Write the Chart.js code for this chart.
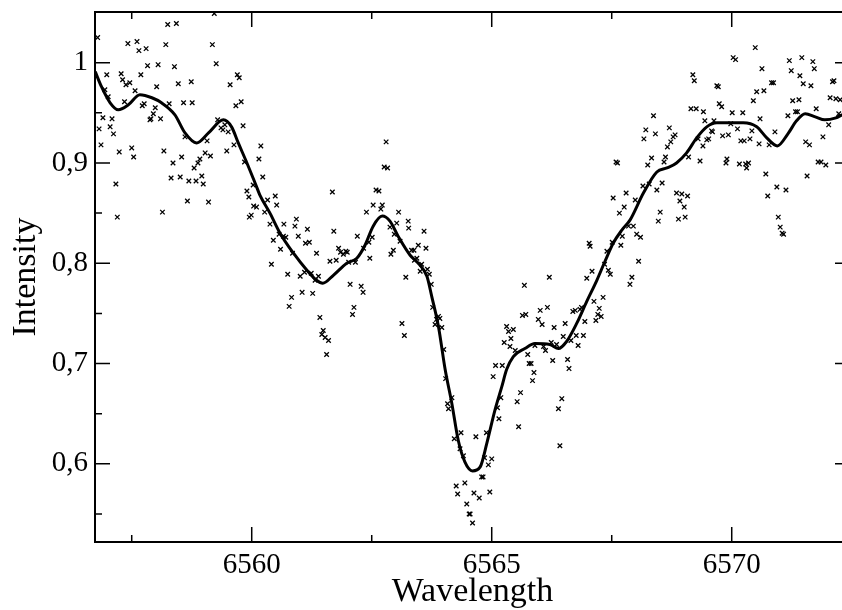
<!DOCTYPE html>
<html>
<head>
<meta charset="utf-8">
<script src="https://cdn.jsdelivr.net/npm/chart.js@4.4.1/dist/chart.umd.min.js"></script>
<style>
  html, body { margin: 0; padding: 0; background: #fff; overflow: hidden; }
  #wrap { width: 856px; height: 610px; }
</style>
</head>
<body>
<div id="wrap"><canvas id="spectrum" width="856" height="610"></canvas></div>
<script>
// axis ranges and ticks
const xMin = 6556.735, xMax = 6572.464;
const yMin = 0.5221, yMax = 1.0505;
const xMajorTicks = [6560, 6565, 6570];
const xMinorTicks = [6557.5, 6562.5, 6567.5];
const yMajorTicks = [0.6, 0.7, 0.8, 0.9, 1.0];
const yMinorTicks = [0.55, 0.65, 0.75, 0.85, 0.95];

// smoothed fit (solid line)
const fitWavelength = [
  6556.74, 6556.87, 6557.05, 6557.22, 6557.43, 6557.67, 6557.92, 6558.12, 6558.40, 6558.61,
  6558.85, 6559.10, 6559.41, 6559.58, 6559.72, 6559.90, 6560.07, 6560.17, 6560.38, 6560.59,
  6560.87, 6561.15, 6561.35, 6561.48, 6561.70, 6561.98, 6562.19, 6562.36, 6562.53, 6562.72,
  6562.88, 6563.05, 6563.30, 6563.47, 6563.65, 6563.75, 6563.89, 6564.03, 6564.17, 6564.30,
  6564.44, 6564.60, 6564.76, 6564.90, 6565.07, 6565.21, 6565.31, 6565.45, 6565.69, 6565.90,
  6566.21, 6566.39, 6566.56, 6566.77, 6566.98, 6567.19, 6567.36, 6567.53, 6567.71, 6567.88,
  6568.16, 6568.44, 6568.65, 6568.85, 6569.06, 6569.27, 6569.48, 6569.69, 6569.96, 6570.24,
  6570.52, 6570.73, 6570.95, 6571.17, 6571.35, 6571.53, 6571.74, 6571.94, 6572.17, 6572.30,
  6572.46
];
const fitIntensity = [
  0.991, 0.976, 0.960, 0.953, 0.958, 0.968, 0.965, 0.960, 0.948, 0.930,
  0.920, 0.930, 0.943, 0.936, 0.920, 0.900, 0.880, 0.868, 0.850, 0.830,
  0.810, 0.793, 0.783, 0.780, 0.788, 0.800, 0.805, 0.818, 0.837, 0.847,
  0.842, 0.827, 0.808, 0.800, 0.787, 0.767, 0.737, 0.694, 0.660, 0.624,
  0.602, 0.593, 0.597, 0.621, 0.654, 0.677, 0.694, 0.707, 0.715, 0.720,
  0.719, 0.715, 0.722, 0.740, 0.762, 0.783, 0.802, 0.820, 0.833, 0.843,
  0.870, 0.891, 0.895, 0.900, 0.910, 0.925, 0.936, 0.940, 0.940, 0.940,
  0.936, 0.925, 0.917, 0.929, 0.942, 0.949, 0.946, 0.943, 0.945, 0.948,
  0.951
];

// observed points (crosses)
const obsWavelength = [
  6556.79, 6558.25, 6558.43, 6559.22, 6557.42, 6557.61, 6557.65, 6557.80, 6558.21, 6559.18,
  6556.98, 6557.28, 6557.31, 6557.38, 6557.46, 6557.69, 6557.83, 6558.05, 6558.39, 6559.26,
  6559.70, 6559.74, 6556.94, 6557.01, 6557.57, 6558.02, 6558.47, 6558.74, 6559.55, 6557.35,
  6557.72, 6557.76, 6557.99, 6558.28, 6558.58, 6558.76, 6559.67, 6559.78, 6556.90, 6557.09,
  6557.95, 6557.88, 6557.90, 6558.10, 6556.82, 6557.05, 6557.12, 6556.86, 6557.24, 6557.50,
  6557.54, 6558.17, 6558.36, 6558.54, 6558.61, 6559.07, 6559.03, 6559.14, 6558.92, 6558.88,
  6558.80, 6558.96, 6558.99, 6558.32, 6558.51, 6558.69, 6558.84, 6557.17, 6558.66, 6559.10,
  6558.14, 6557.20, 6559.29, 6559.36, 6559.40, 6559.51, 6559.44, 6559.82, 6559.63, 6559.48,
  6559.85, 6560.03, 6559.90, 6559.94, 6559.95, 6559.99, 6560.04,
  6560.19, 6560.15, 6560.23, 6560.49, 6560.33, 6560.52, 6560.10, 6560.27, 6560.38, 6560.67,
  6560.90, 6560.93, 6561.16, 6560.45, 6560.57, 6560.66, 6560.71, 6560.97, 6561.12, 6561.20,
  6560.60, 6560.85, 6561.35, 6560.41, 6560.75, 6561.01, 6561.10, 6561.24, 6561.39, 6561.32,
  6561.05, 6561.27, 6560.83, 6560.78, 6561.42, 6561.49, 6561.46, 6561.53, 6561.60, 6561.56,
  6561.68, 6561.71, 6561.63, 6561.76, 6561.81, 6561.85, 6561.91, 6561.96, 6561.99, 6562.02,
  6562.16, 6562.20, 6562.05, 6562.28, 6562.32, 6562.13, 6562.10, 6562.33, 6562.46, 6562.44,
  6562.51, 6562.39, 6562.53, 6562.72, 6562.69, 6562.59, 6562.65, 6562.76, 6562.83, 6562.80,
  6563.06, 6562.88, 6563.02, 6563.26, 6563.27, 6562.97, 6563.09, 6562.95, 6562.90, 6563.21,
  6563.13, 6563.18,
  6563.59, 6563.47, 6563.63, 6563.33, 6563.38, 6563.44, 6563.39, 6563.54, 6563.51, 6563.66,
  6563.70, 6563.74, 6563.77, 6563.89, 6563.92, 6563.82, 6563.96, 6563.85, 6564.00, 6564.04,
  6564.17, 6564.08, 6564.10, 6564.22, 6564.36, 6564.34, 6564.41, 6564.67, 6564.26, 6564.29,
  6564.44, 6564.48, 6564.53, 6564.55, 6564.60, 6564.63, 6564.74, 6564.79, 6564.82, 6564.96,
  6564.85, 6564.93, 6565.00, 6564.89, 6565.15, 6565.12, 6565.19, 6565.03, 6565.08, 6565.22,
  6565.26, 6565.31, 6565.35, 6565.45, 6565.40, 6565.38, 6565.49, 6565.68, 6565.64, 6565.71,
  6565.75, 6565.78, 6565.82, 6565.88, 6565.85, 6565.60, 6565.53, 6565.56,
  6566.20, 6566.01, 6566.16, 6565.97, 6566.05, 6566.30, 6566.53, 6566.49, 6565.90, 6566.08,
  6566.12, 6566.24, 6566.35, 6566.27, 6566.58, 6566.61, 6566.46, 6566.39, 6566.42, 6566.69,
  6566.74, 6566.84, 6566.87, 6566.94, 6566.76, 6566.91, 6566.80, 6566.65, 6566.98, 6567.09,
  6567.03, 6567.05, 6567.13, 6567.32, 6567.24, 6567.21, 6567.28, 6567.17, 6567.35, 6567.43,
  6567.47, 6567.40, 6567.51, 6567.69, 6567.72, 6567.85, 6567.95, 6568.02, 6568.10, 6568.06,
  6567.92, 6567.88, 6568.47,
  6567.53, 6567.66, 6567.76, 6567.80, 6567.99, 6567.59, 6567.62, 6568.37, 6568.21, 6568.41,
  6568.17, 6568.70, 6568.82, 6568.78, 6568.73, 6568.66, 6568.33, 6568.25, 6568.62, 6568.59,
  6568.15, 6568.28, 6568.55, 6568.44, 6568.85, 6568.96, 6569.08, 6568.92, 6569.01, 6568.89,
  6569.03, 6568.51, 6569.19, 6569.22, 6569.69, 6569.72, 6569.15, 6569.26, 6569.41, 6569.44,
  6569.63, 6569.74, 6569.79, 6569.10, 6569.34, 6569.30, 6569.40, 6569.48, 6569.52, 6569.58,
  6569.60, 6569.81, 6569.93, 6569.90, 6569.88, 6570.16, 6570.29, 6570.35, 6570.31, 6570.03,
  6570.08, 6570.01, 6570.23, 6569.98, 6570.12, 6570.19, 6570.26, 6570.38, 6570.42, 6570.57,
  6570.78, 6570.49, 6570.63, 6570.52, 6570.67, 6570.45, 6570.83, 6570.87, 6570.59, 6570.90,
  6570.71, 6570.94, 6571.13, 6570.75, 6570.97, 6571.01, 6571.05, 6571.08, 6571.20, 6571.46,
  6571.69, 6571.72, 6571.24, 6571.42, 6571.49, 6571.65, 6571.27, 6571.40, 6571.17, 6571.33,
  6571.37, 6571.76, 6571.54, 6571.62, 6571.90, 6572.02, 6571.80, 6571.86, 6571.96, 6571.57,
  6572.10, 6572.13, 6572.05, 6572.17, 6572.26, 6572.23
];
const obsIntensity = [
  1.025, 1.038, 1.039, 1.049, 1.019, 1.021, 1.012, 1.014, 1.018, 1.018,
  0.988, 0.989, 0.983, 0.978, 0.980, 0.988, 0.997, 0.998, 0.996, 0.999,
  0.988, 0.985, 0.973, 0.966, 0.972, 0.976, 0.979, 0.981, 0.978, 0.961,
  0.957, 0.959, 0.955, 0.959, 0.960, 0.960, 0.957, 0.961, 0.945, 0.944,
  0.949, 0.943, 0.944, 0.944, 0.934, 0.936, 0.929, 0.918, 0.911, 0.915,
  0.906, 0.912, 0.900, 0.906, 0.926, 0.922, 0.910, 0.907, 0.904, 0.900,
  0.895, 0.887, 0.879, 0.885, 0.886, 0.882, 0.882, 0.879, 0.862, 0.861,
  0.851, 0.846, 0.943, 0.935, 0.933, 0.931, 0.938, 0.937, 0.918, 0.912,
  0.901, 0.878, 0.872, 0.866, 0.846, 0.848, 0.857,
  0.917, 0.904, 0.886, 0.867, 0.863, 0.858, 0.856, 0.851, 0.839, 0.839,
  0.837, 0.844, 0.834, 0.823, 0.829, 0.827, 0.826, 0.827, 0.820, 0.821,
  0.814, 0.810, 0.810, 0.799, 0.789, 0.787, 0.791, 0.790, 0.787, 0.783,
  0.771, 0.770, 0.766, 0.757, 0.746, 0.733, 0.729, 0.726, 0.723, 0.709,
  0.871, 0.832, 0.802, 0.803, 0.815, 0.811, 0.809, 0.812, 0.811, 0.801,
  0.801, 0.827, 0.779, 0.777, 0.771, 0.756, 0.749, 0.815, 0.805, 0.821,
  0.826, 0.851, 0.858, 0.858, 0.854, 0.873, 0.872, 0.896, 0.895, 0.921,
  0.851, 0.836, 0.840, 0.842, 0.835, 0.829, 0.822, 0.813, 0.809, 0.786,
  0.740, 0.728,
  0.832, 0.818, 0.815, 0.813, 0.813, 0.805, 0.803, 0.799, 0.792, 0.794,
  0.789, 0.779, 0.756, 0.747, 0.745, 0.739, 0.736, 0.744, 0.714, 0.685,
  0.666, 0.660, 0.655, 0.625, 0.631, 0.615, 0.608, 0.627, 0.578, 0.570,
  0.581, 0.560, 0.550, 0.550, 0.541, 0.571, 0.566, 0.587, 0.587, 0.572,
  0.606, 0.599, 0.605, 0.631, 0.645, 0.656, 0.666, 0.687, 0.698, 0.698,
  0.721, 0.737, 0.732, 0.734, 0.725, 0.717, 0.713, 0.778, 0.748, 0.749,
  0.709, 0.700, 0.700, 0.691, 0.683, 0.671, 0.662, 0.637,
  0.786, 0.753, 0.756, 0.744, 0.739, 0.736, 0.740, 0.727, 0.718, 0.717,
  0.713, 0.721, 0.719, 0.703, 0.704, 0.695, 0.665, 0.655, 0.618, 0.752,
  0.753, 0.754, 0.756, 0.742, 0.728, 0.728, 0.718, 0.723, 0.785, 0.792,
  0.820, 0.817, 0.762, 0.766, 0.755, 0.749, 0.747, 0.743, 0.799, 0.793,
  0.789, 0.812, 0.821, 0.818, 0.827, 0.837, 0.837, 0.829, 0.826, 0.802,
  0.786, 0.779, 0.842,
  0.865, 0.850, 0.856, 0.870, 0.863, 0.901, 0.900, 0.947, 0.933, 0.929,
  0.924, 0.935, 0.928, 0.926, 0.921, 0.916, 0.905, 0.898, 0.906, 0.901,
  0.877, 0.879, 0.880, 0.873, 0.870, 0.869, 0.867, 0.862, 0.856, 0.844,
  0.846, 0.851, 0.988, 0.982, 0.977, 0.976, 0.954, 0.954, 0.951, 0.942,
  0.942, 0.959, 0.956, 0.906, 0.902, 0.924, 0.917, 0.923, 0.924, 0.932,
  0.931, 0.927, 0.928, 0.904, 0.900, 0.899, 0.899, 0.900, 0.895, 1.005,
  1.003, 0.950, 0.950, 0.939, 0.934, 0.922, 0.922, 0.924, 0.932, 0.919,
  0.918, 1.015, 0.994, 0.971, 0.972, 0.962, 0.980, 0.980, 0.944, 0.931,
  0.889, 0.876, 0.873, 0.867, 0.846, 0.836, 0.830, 0.829, 1.002, 1.005,
  1.001, 0.994, 0.992, 0.987, 0.979, 0.977, 0.962, 0.963, 0.947, 0.951,
  0.951, 0.954, 0.921, 0.918, 0.926, 0.938, 0.901, 0.901, 0.898, 0.887,
  0.981, 0.982, 0.965, 0.964, 0.963, 0.949
];

const serif = '"Liberation Serif", "Times New Roman", serif';

// drop the edge padding chart.js reserves for end labels
const noEdgePadding = s => {
  s.paddingTop = 0; s.paddingBottom = 0; s.paddingLeft = 0; s.paddingRight = 0;
};

const frameTicks = {
  id: "frameTicks",
  afterDatasetsDraw(chart) {
    const { ctx, chartArea: a, scales: { x, y } } = chart;
    ctx.save();
    ctx.strokeStyle = "#000";
    ctx.lineWidth = 1.5;
    const xTick = (list, len) => list.forEach(v => {
      const px = x.getPixelForValue(v);
      ctx.beginPath();
      ctx.moveTo(px, a.bottom); ctx.lineTo(px, a.bottom - len);
      ctx.moveTo(px, a.top); ctx.lineTo(px, a.top + len);
      ctx.stroke();
    });
    const yTick = (list, len) => list.forEach(v => {
      const py = y.getPixelForValue(v);
      ctx.beginPath();
      ctx.moveTo(a.left, py); ctx.lineTo(a.left + len, py);
      ctx.moveTo(a.right, py); ctx.lineTo(a.right - len, py);
      ctx.stroke();
    });
    xTick(xMajorTicks, 15);
    xTick(xMinorTicks, 7);
    yTick(yMajorTicks, 15);
    yTick(yMinorTicks, 7);
    ctx.lineWidth = 2;
    ctx.strokeRect(a.left, a.top, a.right - a.left, a.bottom - a.top);
    ctx.restore();
  }
};

new Chart(document.getElementById("spectrum"), {
  type: "scatter",
  data: {
    datasets: [
      {
        label: "fit",
        data: fitWavelength.map((w, i) => ({ x: w, y: fitIntensity[i] })),
        showLine: true,
        borderColor: "#000",
        borderWidth: 3,
        pointRadius: 0,
        cubicInterpolationMode: "monotone",
        fill: false
      },
      {
        label: "observed",
        data: obsWavelength.map((w, i) => ({ x: w, y: obsIntensity[i] })),
        pointStyle: "crossRot",
        pointRadius: 3.2,
        borderColor: "#000",
        borderWidth: 1.3,
        backgroundColor: "#000"
      }
    ]
  },
  options: {
    responsive: false,
    animation: false,
    events: [],
    layout: { padding: { top: 12, right: 6, bottom: 0, left: 0 } },
    plugins: { legend: { display: false }, tooltip: { enabled: false } },
    scales: {
      x: {
        type: "linear",
        min: xMin,
        max: xMax,
        afterBuildTicks: s => { s.ticks = xMajorTicks.map(v => ({ value: v })); },
        afterFit: s => { s.height = 68; noEdgePadding(s); },
        grid: { display: false, drawTicks: false },
        border: { display: false },
        ticks: {
          autoSkip: false,
          maxRotation: 0,
          padding: 6,
          color: "#000",
          font: { family: serif, size: 29 },
          callback: v => String(v)
        },
        title: {
          display: true,
          text: "Wavelength",
          color: "#000",
          font: { family: serif, size: 34, lineHeight: 1 },
          padding: { top: 0, bottom: 1 }
        }
      },
      y: {
        type: "linear",
        min: yMin,
        max: yMax,
        afterBuildTicks: s => { s.ticks = yMajorTicks.map(v => ({ value: v })); },
        afterFit: s => { s.width = 95; noEdgePadding(s); },
        grid: { display: false, drawTicks: false },
        border: { display: false },
        ticks: {
          autoSkip: false,
          padding: 7,
          color: "#000",
          font: { family: serif, size: 29 },
          callback: v => (v === 1 ? "1" : v.toFixed(1).replace(".", ","))
        },
        title: {
          display: true,
          text: "Intensity",
          color: "#000",
          font: { family: serif, size: 34, lineHeight: 1 },
          padding: { top: 9, bottom: 0 }
        }
      }
    }
  },
  plugins: [frameTicks]
});
</script>
</body>
</html>
